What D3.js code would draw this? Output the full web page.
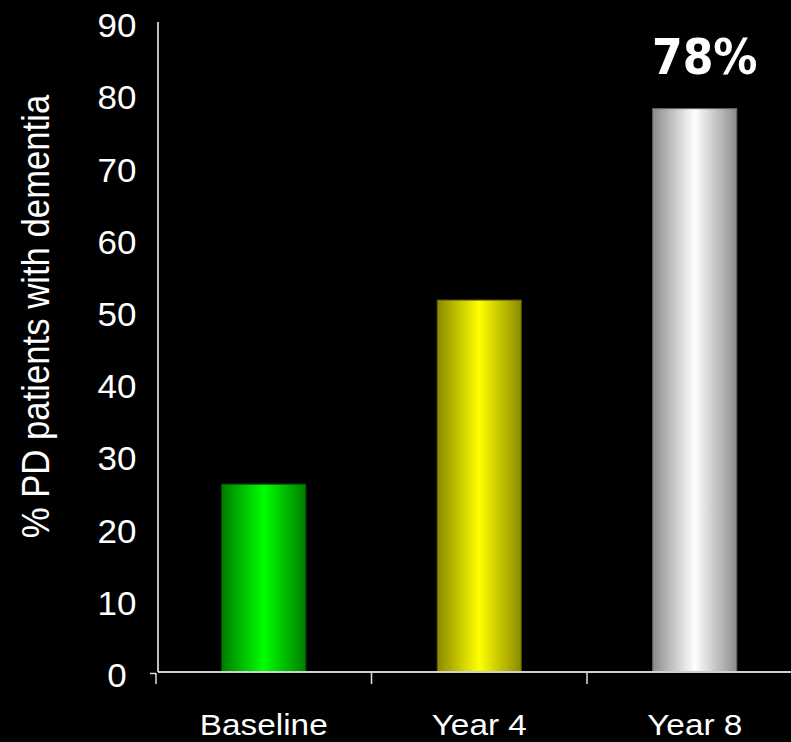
<!DOCTYPE html>
<html>
<head>
<meta charset="utf-8">
<script src="https://cdn.jsdelivr.net/npm/d3@7"></script>
<style>
  html, body { margin: 0; padding: 0; background: #000; }
  svg { display: block; }
</style>
</head>
<body>
<svg id="chart" width="791" height="742"></svg>
<script>
// Share of PD patients with dementia at each follow-up point
const categories = ["Baseline", "Year 4", "Year 8"];
const values = [26, 51.5, 78];
const yTicks = [0, 10, 20, 30, 40, 50, 60, 70, 80, 90];
const valueLabels = [null, null, "78%"];
const yTitle = "% PD patients with dementia";

// Gradient stops per bar: [edge colour, centre colour, outline]
const barColours = [
  ["#007d00", "#00ff00", "#005a00"],
  ["#8a8a00", "#ffff00", "#5c5c00"],
  ["#8c8c8c", "#ffffff", "#6a6a6a"]
];

const W = 791, H = 742;
const svg = d3.select("#chart");
const stretch = 1.13; // horizontal text stretch

const y = d3.scaleLinear().domain([0, 90]).range([672, 22]);
const x = d3.scaleBand()
  .domain(categories)
  .range([156, 802.5])
  .paddingInner(0.61)
  .paddingOuter(0.305);
const step = x.step();
const x0 = x.range()[0];

// Bar gradients
const defs = svg.append("defs");
barColours.forEach((c, i) => {
  const g = defs.append("linearGradient")
    .attr("id", "grad" + i)
    .attr("x1", "0%").attr("x2", "100%").attr("y1", "0%").attr("y2", "0%");
  g.append("stop").attr("offset", "0%").attr("stop-color", c[0]);
  g.append("stop").attr("offset", "50%").attr("stop-color", c[1]);
  g.append("stop").attr("offset", "100%").attr("stop-color", c[0]);
});

// Bars
svg.append("g").selectAll("rect")
  .data(values)
  .join("rect")
  .attr("x", (d, i) => x(categories[i]))
  .attr("width", x.bandwidth())
  .attr("y", d => y(d))
  .attr("height", d => y(0) - y(d))
  .attr("fill", (d, i) => `url(#grad${i})`)
  .attr("stroke", (d, i) => barColours[i][2])
  .attr("stroke-width", 1);

// Y axis: short ticks with centred labels
const yAxis = svg.append("g")
  .attr("transform", "translate(135,0)")
  .call(d3.axisLeft(y).tickValues(yTicks).tickSize(3).tickSizeOuter(0));
yAxis.select(".domain").remove();
yAxis.selectAll(".tick line").attr("stroke", "#ffffff");
yAxis.selectAll(".tick text")
  .attr("x", 0).attr("dy", 0)
  .attr("text-anchor", "middle")
  .attr("dominant-baseline", "central")
  .attr("transform", `translate(-18,3) scale(1.06,1)`)
  .attr("fill", "#ffffff")
  .style("font-family", "'Liberation Sans', Arial, sans-serif")
  .style("font-size", "33px");
yAxis.selectAll(".tick").filter(d => d === 0).select("line").remove();

// Y axis line
svg.append("line")
  .attr("x1", 158).attr("x2", 158)
  .attr("y1", y(90)).attr("y2", y(0))
  .attr("stroke", "#ffffff").attr("stroke-width", 1.5);

// X axis line and category boundary ticks
svg.append("line")
  .attr("x1", 158).attr("x2", W)
  .attr("y1", y(0)).attr("y2", y(0))
  .attr("stroke", "#d0d0d0").attr("stroke-width", 2);
svg.append("g").selectAll("line")
  .data(d3.range(categories.length + 1))
  .join("line")
  .attr("x1", i => x0 + i * step)
  .attr("x2", i => x0 + i * step)
  .attr("y1", y(0) + 1).attr("y2", y(0) + 12)
  .attr("stroke", "#e0e0e0").attr("stroke-width", 1.5);
svg.append("line")
  .attr("x1", 150).attr("x2", x0)
  .attr("y1", y(0) + 1.5).attr("y2", y(0) + 1.5)
  .attr("stroke", "#e0e0e0").attr("stroke-width", 1.5);

// Category labels
svg.append("g").selectAll("text")
  .data(categories)
  .join("text")
  .attr("transform", d => `translate(${x(d) + x.bandwidth() / 2},735) scale(${stretch},1)`)
  .attr("text-anchor", "middle")
  .attr("fill", "#ffffff")
  .style("font-family", "'Liberation Sans', Arial, sans-serif")
  .style("font-size", "29.5px")
  .text(d => d);

// Y axis title
svg.append("text")
  .attr("transform", `translate(49,${(95 + 538) / 2}) scale(${stretch},1) rotate(-90)`)
  .attr("text-anchor", "middle")
  .attr("fill", "#ffffff")
  .style("font-family", "'Liberation Sans', Arial, sans-serif")
  .style("font-size", "34.7px")
  .text(yTitle);

// Value label above the last bar
svg.append("g").selectAll("text")
  .data(values.map((v, i) => ({ v, i, label: valueLabels[i] })).filter(d => d.label))
  .join("text")
  .attr("x", d => x(categories[d.i]) + x.bandwidth() / 2 + 10)
  .attr("y", d => y(d.v) - 35)
  .attr("text-anchor", "middle")
  .attr("fill", "#ffffff")
  .style("font-family", "'DejaVu Sans Condensed', 'DejaVu Sans', sans-serif")
  .style("font-weight", "bold")
  .style("font-size", "49px")
  .text(d => d.label);
</script>
</body>
</html>
